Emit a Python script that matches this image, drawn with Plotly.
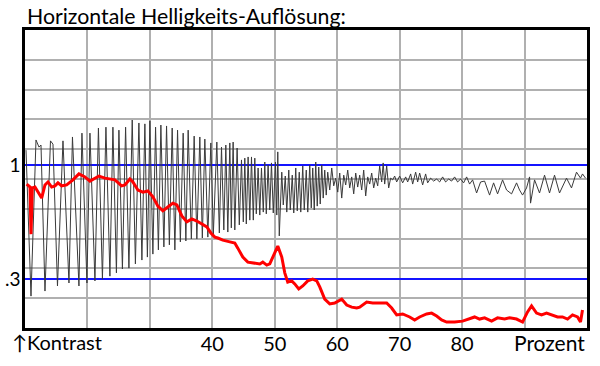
import plotly.graph_objects as go

# x in percent (10..100), y in grid rows (0 = bottom, 10 = top)
black_x = [10.16, 10.96, 11.76, 12.24, 12.56, 13.2, 14.08, 14.48, 15.2, 16.08, 17.04, 17.6, 18.64, 19.12,
           19.92, 20.4, 21.2, 21.76, 22.4, 22.96, 23.6, 24.08, 24.64, 25.04, 25.6, 26.11, 26.64, 27.17,
           27.68, 28.24, 28.72, 29.2, 29.6, 30.0, 30.48, 30.91, 31.36, 31.76, 32.24, 32.67, 33.12, 33.57,
           34.0, 34.43, 34.88, 35.33, 35.76, 36.13, 36.64, 37.09, 37.52, 38.0, 38.4, 38.8, 39.28, 39.76,
           40.16, 40.72, 41.12, 41.47, 41.84, 42.16, 42.48, 42.8, 43.04, 43.33, 43.6, 43.97, 44.32, 44.67,
           44.96, 45.2, 45.44, 45.73, 46.0, 46.27, 46.56, 46.8, 47.04, 47.33, 47.6, 47.87, 48.16, 48.4,
           48.64, 48.93, 49.2, 49.47, 49.76, 50.11, 50.32, 50.48, 50.72,
           51.12, 51.36, 51.68, 51.92, 52.24, 52.48, 52.8, 53.04, 53.36, 53.6, 53.92, 54.16, 54.48, 54.72,
           55.04, 55.28, 55.6, 55.84, 56.08, 56.32, 56.56, 56.8, 57.04, 57.28, 57.52, 57.76, 58.0, 58.24,
           58.48, 58.8, 59.12, 59.44, 59.76, 60.08, 60.4, 60.72, 61.04, 61.36, 61.68, 62.0, 62.32, 62.64,
           62.96, 63.28, 63.6, 63.92, 64.24, 64.56, 64.88, 65.2, 65.52, 65.84, 66.16, 66.48, 66.8, 67.12,
           67.36, 67.6, 67.92, 68.24, 68.56, 68.88, 69.2, 69.52, 70.0, 70.48, 70.96, 71.28, 71.76, 72.08,
           72.56, 72.88, 73.2, 73.68, 74.16, 74.48, 74.96, 75.44, 75.92, 76.4, 76.88, 77.36, 77.84, 78.32,
           78.8, 79.28, 79.76, 80.24, 80.72, 81.2, 81.68, 82.32, 82.96, 83.6, 84.4, 85.04, 85.68, 86.48,
           87.12, 87.92, 88.72, 89.2, 89.68, 90.32, 90.8, 90.96, 91.28, 91.6, 92.4, 93.2, 94.0, 94.8,
           95.6, 96.72, 97.52, 98.32, 98.96, 99.28, 99.76]
black_y = [5.97, 1.07, 6.31, 6.07, 6.14, 1.24, 6.28, 6.17, 1.41, 6.28, 1.51, 6.41, 1.41, 6.54,
           1.51, 6.54, 1.58, 6.71, 1.64, 6.74, 1.74, 6.74, 1.85, 6.64, 1.98, 6.74, 2.01, 6.98,
           2.15, 6.88, 2.28, 6.85, 2.38, 6.95, 2.48, 6.74, 2.62, 6.81, 2.72, 6.78, 2.79, 6.71,
           2.62, 6.64, 2.89, 6.54, 2.92, 6.64, 2.99, 6.44, 2.99, 6.41, 3.02, 6.34, 3.05, 6.21,
           3.15, 6.24, 3.19, 6.07, 3.29, 6.14, 3.22, 6.21, 3.36, 6.24, 3.29, 6.04, 3.46, 5.64,
           3.56, 5.70, 3.49, 5.74, 3.62, 5.74, 3.62, 5.70, 3.83, 5.37, 3.79, 5.37, 3.89, 5.57,
           3.83, 5.47, 3.96, 5.54, 3.86, 5.57, 3.79, 5.91, 3.09,
           5.23, 4.13, 5.10, 3.89, 5.30, 3.96, 5.13, 3.86, 5.37, 3.93, 5.23, 3.89, 5.44, 3.96,
           5.30, 3.89, 5.47, 4.03, 5.37, 3.96, 5.57, 4.09, 5.40, 4.16, 5.47, 4.36, 5.30, 4.46,
           5.23, 4.63, 5.37, 4.77, 5.03, 4.56, 5.20, 4.36, 5.13, 4.80, 5.30, 4.70, 5.07, 4.50,
           5.20, 4.73, 5.13, 4.63, 5.30, 4.43, 5.07, 4.83, 5.20, 4.70, 5.03, 4.77, 5.44, 4.90,
           5.54, 4.83, 5.44, 4.70, 5.03, 4.97, 5.10, 4.90, 5.10, 4.87, 5.07, 4.90, 5.17, 4.83,
           5.23, 4.90, 5.20, 4.80, 5.17, 4.87, 5.03, 4.93, 5.00, 4.90, 5.07, 4.90, 5.00, 4.93,
           5.07, 4.90, 5.00, 4.87, 5.07, 4.83, 4.97, 4.53, 4.90, 4.93, 4.46, 4.87, 4.50, 4.97,
           4.63, 4.50, 4.87, 4.63, 4.46, 4.70, 5.07, 4.19, 4.63, 4.97, 4.53, 5.13, 4.53, 5.13,
           4.53, 5.03, 4.70, 5.23, 5.03, 5.17, 5.03]

red_x = [10.27, 10.8, 10.96, 11.17, 11.6, 12.13, 12.67, 13.2, 13.68, 14.27, 14.8, 15.28, 15.87, 16.67,
         17.68, 18.64, 19.6, 20.4, 21.2, 21.84, 22.8, 23.6, 24.4, 25.47, 26.0, 26.8, 27.28, 28.08,
         28.88, 29.68, 30.48, 31.28, 32.08, 32.88, 33.68, 34.32, 35.12, 35.92, 36.72, 37.52, 38.32,
         39.12, 39.76, 40.4, 40.88, 41.68, 42.8, 43.6, 44.08, 44.88, 45.68, 46.8, 47.6, 48.08, 48.72,
         49.2, 49.68, 50.48, 51.12, 51.6, 52.08, 52.72, 53.2, 53.84, 54.48, 55.28, 56.08, 56.72, 57.2,
         58.0, 58.8, 59.6, 60.72, 61.52, 62.32, 63.12, 63.6, 64.72, 65.68, 66.8, 67.92, 68.72, 69.52,
         70.48, 71.6, 72.4, 73.2, 74.32, 75.12, 75.92, 76.72, 77.52, 78.8, 80.08, 81.2, 82.0, 82.8,
         83.6, 84.72, 85.68, 86.8, 87.6, 88.72, 89.68, 90.48, 91.12, 91.92, 92.72, 93.52, 94.32, 95.28,
         96.08, 96.88, 97.68, 98.48, 98.96, 99.28]
red_y = [4.83, 4.73, 3.15, 4.70, 4.73, 4.53, 4.36, 4.80, 4.90, 4.73, 4.77, 4.87, 4.77, 4.80,
         4.97, 5.17, 5.07, 4.93, 5.03, 5.10, 5.03, 5.00, 4.97, 4.77, 4.80, 5.00, 4.90, 4.63,
         4.56, 4.60, 4.40, 4.09, 3.93, 4.06, 4.19, 4.13, 3.76, 3.56, 3.66, 3.59, 3.49,
         3.39, 3.19, 3.05, 3.02, 2.95, 2.89, 2.85, 2.68, 2.38, 2.21, 2.18, 2.15, 2.21, 2.11,
         2.15, 2.38, 2.75, 2.38, 1.85, 1.54, 1.58, 1.48, 1.31, 1.41, 1.58, 1.64, 1.58, 1.38,
         0.97, 0.81, 0.84, 0.97, 0.77, 0.70, 0.67, 0.70, 0.87, 0.84, 0.84, 0.84, 0.67, 0.44,
         0.47, 0.37, 0.27, 0.37, 0.47, 0.50, 0.40, 0.27, 0.20, 0.20, 0.23, 0.30, 0.37, 0.30,
         0.34, 0.23, 0.34, 0.30, 0.34, 0.30, 0.20, 0.54, 0.74, 0.50, 0.44, 0.50, 0.44, 0.37,
         0.37, 0.30, 0.44, 0.37, 0.20, 0.60]

x_grid = [20, 30, 40, 50, 60, 70, 80, 90]
x_ticktext = ["", "", "40", "50", "60", "70", "80", ""]
ref_levels = [1.64, 5.47]
ref_labels = [".3", "1"]

FONT = "Lato"

fig = go.Figure()
fig.add_trace(go.Scatter(x=black_x, y=black_y, mode="lines",
                         line=dict(color="#3a3a3a", width=1), hoverinfo="skip"))
fig.add_trace(go.Scatter(x=red_x, y=red_y, mode="lines",
                         line=dict(color="#ff0000", width=3), hoverinfo="skip"))

fig.update_layout(
    width=600, height=366,
    margin=dict(l=25, r=13, t=30, b=38, autoexpand=False),
    paper_bgcolor="white", plot_bgcolor="white",
    showlegend=False,
    font=dict(family=FONT, size=19, color="black"),
    xaxis=dict(range=[10, 100], tickmode="array", tickvals=x_grid, ticktext=x_ticktext,
               showgrid=True, gridcolor="#b0b0b0", gridwidth=1.5, zeroline=False,
               showline=True, linecolor="black", linewidth=2.5, mirror=True, automargin=False,
               ticks="", ticklen=0, ticklabelstandoff=-4, tickfont=dict(size=20, family=FONT)),
    yaxis=dict(range=[0, 10], tickmode="array", tickvals=ref_levels, ticktext=ref_labels,
               showgrid=True, gridcolor="#1414ff", gridwidth=2, zeroline=False,
               showline=True, linecolor="black", linewidth=2.5, mirror=True, automargin=False,
               ticks="", ticklen=0, ticklabelstandoff=-2, tickfont=dict(size=19, family=FONT),
               minor=dict(tickmode="linear", tick0=0, dtick=1, showgrid=True,
                          gridcolor="#b0b0b0", gridwidth=1.5, ticks="")),
)

fig.add_annotation(text="Horizontale Helligkeits-Auflösung:", xref="paper", yref="paper",
                   x=0, y=1, xanchor="left", yanchor="bottom", xshift=0, yshift=-1,
                   showarrow=False, font=dict(size=21.3, family=FONT, color="black"))
fig.add_annotation(text="↑Kontrast", xref="paper", yref="paper", x=0, y=0,
                   xanchor="left", yanchor="top", xshift=-15, yshift=0,
                   showarrow=False, font=dict(size=20, family=FONT, color="black"))
fig.add_annotation(text="Prozent", xref="paper", yref="paper", x=1, y=0,
                   xanchor="right", yanchor="top", xshift=0, yshift=0,
                   showarrow=False, font=dict(size=21, family=FONT, color="black"))

# remove the browser's default page margin so the 600x366 figure fills the window
fig.write_html("out.html", config={"displayModeBar": False},
               post_script="document.body.style.margin='0';")
